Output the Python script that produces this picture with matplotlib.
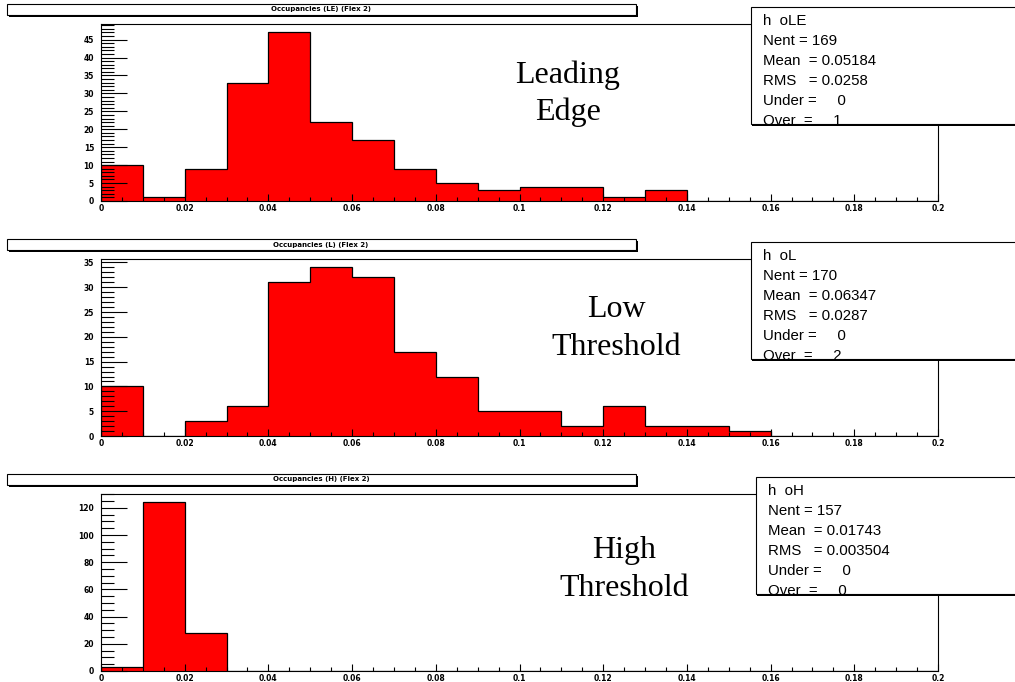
import numpy as np
import matplotlib
matplotlib.use('Agg')
import matplotlib.pyplot as plt
from matplotlib.patches import Rectangle
from matplotlib.ticker import MultipleLocator, FormatStrFormatter

'~~~~~~~~~~ DATA ~~~~~~~~~~'
bin_edges = np.round(np.arange(0, 0.2001, 0.01), 3)

counts_le = [10, 1, 9, 33, 47, 22, 17, 9, 5, 3, 4, 4, 1, 3, 0, 0, 0, 0, 0, 0]
counts_l = [10, 0, 3, 6, 31, 34, 32, 17, 12, 5, 5, 2, 6, 2, 2, 1, 0, 0, 0, 0]
counts_h = [3, 124, 28, 0, 0, 0, 0, 0, 0, 0, 0, 0, 0, 0, 0, 0, 0, 0, 0, 0]

titles = ['Occupancies (LE) (Flex 2)', 'Occupancies (L) (Flex 2)', 'Occupancies (H) (Flex 2)']
names = ['h  oLE', 'h  oL', 'h  oH']
nent = [169, 170, 157]
means = ['0.05184', '0.06347', '0.01743']
rms = ['0.0258', '0.0287', '0.003504']
under = [0, 0, 0]
over = [1, 2, 0]
labels = [('Leading', 'Edge'), ('Low', 'Threshold'), ('High', 'Threshold')]

y_major = [5, 5, 20]
y_minor = [1, 1, 5]

'~~~~~~~~~~ LAYOUT (pixels) ~~~~~~~~~~'
W, H = 1015, 682
panel_h = 235
ax_left, ax_right = 101, 938
ax_top, ax_bot = 24, 201
label_x = [568, 616, 624]
label_y = [(83, 120), (82, 120), (88, 126)]
box_left = [751, 751, 756]


def fx(x):
    return x / W


def fy(y):
    return 1 - y / H


fig = plt.figure(figsize=(W / 100, H / 100), dpi=100)
fig.patch.set_facecolor('white')

all_counts = [counts_le, counts_l, counts_h]

for i in range(3):
    off = panel_h * i
    ax = fig.add_axes([fx(ax_left), fy(ax_bot + off), (ax_right - ax_left) / W, (ax_bot - ax_top) / H])
    c = np.array(all_counts[i])
    ax.stairs(c, bin_edges, fill=True, color='#ff0000', zorder=1)
    ax.stairs(c, bin_edges, color='black', lw=0.9, zorder=1.2)
    ax.set_xlim(0, 0.2)
    ax.set_ylim(0, c.max() * 1.05)

    ax.xaxis.set_major_locator(MultipleLocator(0.02))
    ax.xaxis.set_minor_locator(MultipleLocator(0.005))
    ax.xaxis.set_major_formatter(FormatStrFormatter('%g'))
    ax.yaxis.set_major_locator(MultipleLocator(y_major[i]))
    ax.yaxis.set_minor_locator(MultipleLocator(y_minor[i]))
    ax.yaxis.set_major_formatter(FormatStrFormatter('%g'))

    ax.tick_params(axis='y', which='major', direction='in', length=18.7, width=0.8,
                   labelsize=5.5, pad=5, right=False)
    ax.tick_params(axis='y', which='minor', direction='in', length=9.5, width=0.8, right=False)
    ax.tick_params(axis='x', which='major', direction='in', length=5, width=0.8,
                   labelsize=5.5, pad=2.5, top=False)
    ax.tick_params(axis='x', which='minor', direction='in', length=2.8, width=0.8, top=False)
    for lab in ax.get_xticklabels() + ax.get_yticklabels():
        lab.set_fontweight('bold')
    for s in ax.spines.values():
        s.set_linewidth(0.8)

    # title box with shadow
    fig.patches.append(Rectangle((fx(8.5), fy(16.5 + off)), (636 - 7) / W, 11 / H,
                                 transform=fig.transFigure, facecolor='black',
                                 edgecolor='none', zorder=5))
    fig.patches.append(Rectangle((fx(7), fy(15 + off)), (636 - 7) / W, 11 / H,
                                 transform=fig.transFigure, facecolor='white',
                                 edgecolor='black', lw=0.8, zorder=6))
    fig.text(fx(321), fy(9.5 + off), titles[i], ha='center', va='center',
             fontsize=5, fontweight='bold', zorder=7)

    # stats box
    bl = box_left[i]
    fig.patches.append(Rectangle((fx(bl + 1), fy(125.5 + off)), (1030 - bl) / W, (124 - 7) / H,
                                 transform=fig.transFigure, facecolor='black',
                                 edgecolor='none', zorder=5))
    fig.patches.append(Rectangle((fx(bl), fy(124 + off)), (1030 - bl) / W, (124 - 7) / H,
                                 transform=fig.transFigure, facecolor='white',
                                 edgecolor='black', lw=0.8, zorder=6))
    lines = [names[i],
             'Nent = %d' % nent[i],
             'Mean  = ' + means[i],
             'RMS   = ' + rms[i],
             'Under =     %d' % under[i],
             'Over  =     %d' % over[i]]
    for j, t in enumerate(lines):
        fig.text(fx(bl + 12), fy(21 + 20 * j + off), t, ha='left', va='center',
                 fontsize=10.8, family='Liberation Sans', zorder=7)

    # big label
    l1, l2 = labels[i]
    fig.text(fx(label_x[i]), fy(label_y[i][0] + off), l1, ha='center', va='baseline',
             fontsize=23, family='Liberation Serif')
    fig.text(fx(label_x[i]), fy(label_y[i][1] + off), l2, ha='center', va='baseline',
             fontsize=23, family='Liberation Serif')

fig.savefig('out.png', dpi=100, facecolor='white')
